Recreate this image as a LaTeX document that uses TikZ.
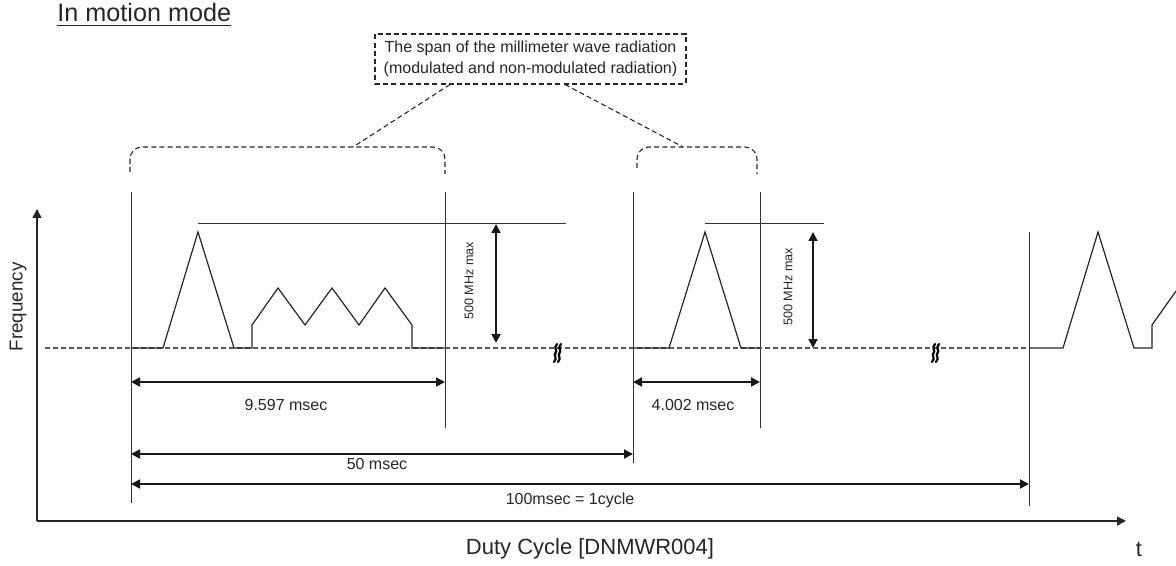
\documentclass[tikz,border=0pt]{standalone}
\usepackage{fontspec}
\setmainfont{Liberation Sans}
\usetikzlibrary{arrows.meta}

\begin{document}
\begin{tikzpicture}[x=0.5pt, y=-0.5pt, >={Triangle[length=4.5pt,width=4.5pt]},
  every node/.style={text=black!85, inner sep=0pt},
  markline/.style={draw=black!80, line width=0.5pt},
  sig/.style={draw=black!85, line width=0.6pt},
  dim/.style={<->, draw=black!90, line width=0.9pt},
  spanline/.style={draw=black!85, dash pattern=on 2.5pt off 1.6pt, line width=0.55pt},
  baseline/.style={draw=black!65, dash pattern=on 2.3pt off 1.7pt, line width=0.6pt},
  lbl/.style={font=\fontsize{8}{10.5}\selectfont},
  brk/.pic={\draw[line width=1.1pt, line cap=round] (1,-9) .. controls (-3,-5) and (2,-2) .. (-0.5,0) .. controls (-3,2) and (2,5) .. (-2,9);
            \draw[line width=1.1pt, line cap=round] (5,-9) .. controls (1,-5) and (6,-2) .. (3.5,0) .. controls (1,2) and (6,5) .. (2,9);}]
\useasboundingbox (0,0) rectangle (1176,566);

% title and the span box
\node[anchor=base west, font=\fontsize{12.6}{15}\selectfont] (title) at (57,22) {\underline{In motion mode}};
\node[spanline, draw, minimum width=155.5pt, minimum height=25pt, align=center, lbl] (spanbox) at (530.5,59)
  {The span of the millimeter wave radiation\\(modulated and non-modulated radiation)};
\coordinate (braceA) at (353,147);
\coordinate (braceB) at (683,147);
\draw[spanline, rounded corners=6pt] (130,172) -- (130,147) -- (445,147) -- (445,174);
\draw[spanline, rounded corners=6pt] (637,168) -- (637,147) -- (757,147) -- (757,174);
\draw[spanline] ([xshift=-40.25pt]spanbox.south) -- (braceA);
\draw[spanline] ([xshift=17.25pt]spanbox.south) -- (braceB);

% axes
\coordinate (origin) at (37,521);
\draw[line width=0.75pt, draw=black!85, ->] (origin) -- (37,209);
\draw[line width=0.75pt, draw=black!85, ->] (origin) -- (1126,521);
\node[rotate=90, font=\fontsize{9.4}{11}\selectfont] (freq) at (18,307) {Frequency};
\node[font=\fontsize{11}{13}\selectfont] (duty) at (590,549) {Duty Cycle [DNMWR004]};
\node[font=\fontsize{11}{13}\selectfont] (tlab) at (1139,549) {t};

% marker lines
\coordinate (aT) at (131,192); \coordinate (aB) at (131,503);
\coordinate (bT) at (445,192); \coordinate (bB) at (445,428);
\coordinate (cT) at (633,192); \coordinate (cB) at (633,463);
\coordinate (dT) at (760,192); \coordinate (dB) at (760,428);
\coordinate (eT) at (1029,232); \coordinate (eB) at (1029,506);
\foreach \m in {a,b,c,d,e} \draw[markline] (\m T) -- (\m B);

% baseline with breaks
\coordinate (base) at (45,348);
\draw[baseline] (base) -- (eT |- base);
\pic at (556,353) {brk};
\pic at (934,353) {brk};

% signals
\draw[sig] (131,348) -- (163,348) -- (198,232) -- (234,348) -- (252,348) -- (252,325)
  -- (278,288) -- (305,325) -- (332,288) -- (359,325) -- (385,288) -- (412,325) -- (412,348) -- (445,348);
\draw[sig] (633,348) -- (669,348) -- (705,232) -- (741,348) -- (760,348);
\draw[sig] (1029,348) -- (1063,348) -- (1098,232) -- (1134,348) -- (1152,348) -- (1152,325) -- (1176,291);

% 500 MHz spans
\coordinate (topA) at (198,224);
\coordinate (topB) at (705,224);
\draw[markline] (topA) -- (566,224);
\draw[markline] (topB) -- (824,224);
\draw[dim] (496,224) -- (496,343);
\draw[dim] (813,232) -- (813,348);
\node[rotate=90, font=\fontsize{6.3}{7.5}\selectfont] (mhzA) at (469,281) {500 MHz max};
\node[rotate=90, font=\fontsize{6.3}{7.5}\selectfont] (mhzB) at (788,287) {500 MHz max};

% durations
\coordinate (r1) at (0,382);
\coordinate (r2) at (0,454);
\coordinate (r3) at (0,484);
\draw[dim] (aT |- r1) -- (bT |- r1);
\draw[dim] (cT |- r1) -- (dT |- r1);
\draw[dim] (aT |- r2) -- (cT |- r2);
\draw[dim] (aT |- r3) -- (eT |- r3);
\node[lbl] (tA) at (286,405) {9.597 msec};
\node[lbl] (tB) at (693,405) {4.002 msec};
\node[lbl] (tC) at (377,464) {50 msec};
\node[lbl] (tD) at (570,500) {100msec = 1cycle};
\end{tikzpicture}
\end{document}
